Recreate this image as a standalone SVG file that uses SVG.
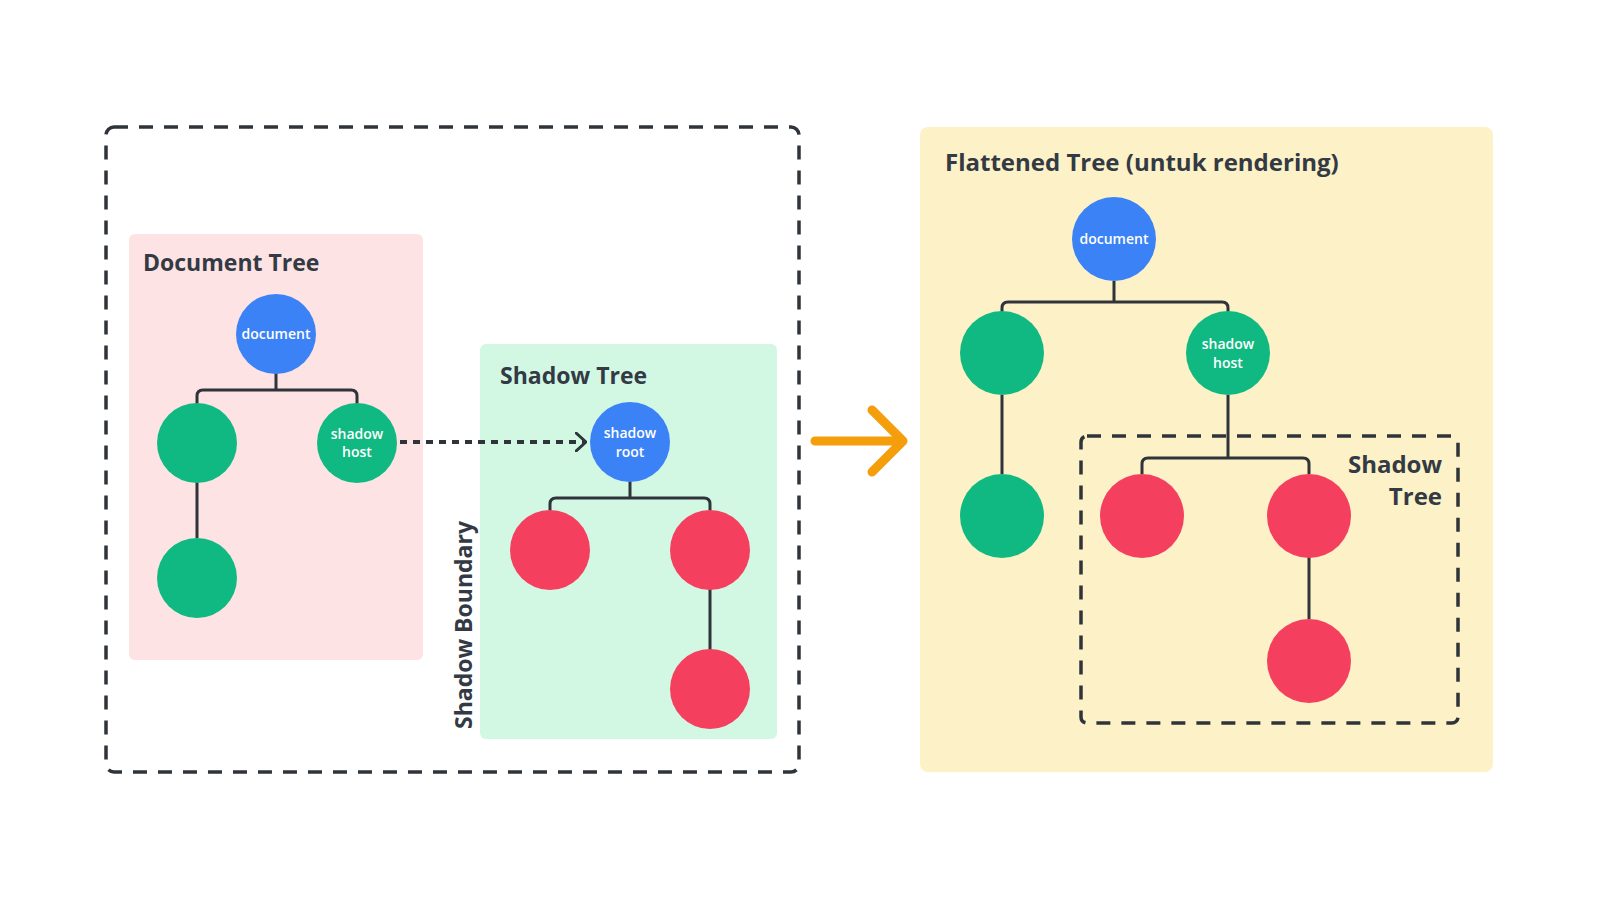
<svg xmlns="http://www.w3.org/2000/svg" width="1600" height="900" viewBox="0 0 1600 900">
<defs>
<style>
.title{font-family:"Open Sans","Liberation Sans",sans-serif;font-weight:700;font-size:23px;fill:#333a44}
.big{font-size:24px}
.lbl{font-family:"Open Sans","Liberation Sans",sans-serif;font-weight:600;font-size:14px;fill:#ffffff;text-anchor:middle}
.blue{fill:#3b82f6}
.green{fill:#10b981}
.red{fill:#f43f5e}
.edge{fill:none;stroke:#2f343b;stroke-width:3;stroke-linejoin:round}
.dash{fill:none;stroke:#2f343b;stroke-width:3.5;stroke-dasharray:14 11}
</style>
<marker id="chev" viewBox="0 0 12 20" refX="11" refY="10" markerWidth="12" markerHeight="20" markerUnits="userSpaceOnUse" orient="auto">
<path d="M1,1 L11,10 L1,19" fill="none" stroke="#2f343b" stroke-width="3" stroke-linecap="round" stroke-linejoin="round"/>
</marker>
</defs>
<rect width="1600" height="900" fill="#ffffff"/>

<g id="frames">
<rect x="106" y="127" width="693" height="645" rx="8" class="dash"/>
<rect x="129" y="234" width="294" height="426" rx="6" fill="#fde3e3"/>
<rect x="480" y="344" width="297" height="395" rx="6" fill="#d2f8e4"/>
<rect x="920" y="127" width="573" height="645" rx="8" fill="#fdf1c7"/>
<text class="title" x="143" y="271">Document Tree</text>
<text class="title" x="500" y="384">Shadow Tree</text>
<text class="title" x="0" y="0" transform="translate(472,625) rotate(-90)" text-anchor="middle">Shadow Boundary</text>
<text class="title big" x="945" y="171">Flattened Tree (untuk rendering)</text>
<rect x="1081" y="436" width="377" height="287" rx="6" class="dash"/>
<text class="title big" x="1442" y="473" text-anchor="end">Shadow</text>
<text class="title big" x="1442" y="505" text-anchor="end">Tree</text>
</g>

<g id="connectors">
<path class="edge" d="M276,373 V390 M197,404 V396 Q197,390 203,390 H351 Q357,390 357,396 V404"/>
<path class="edge" d="M197,482 V538"/>
<path class="edge" d="M630,481 V498 M550,511 V504 Q550,498 556,498 H704 Q710,498 710,504 V511"/>
<path class="edge" d="M710,589 V650"/>
<path d="M400,442 H586" fill="none" stroke="#2f343b" stroke-width="4" stroke-dasharray="7 6" marker-end="url(#chev)"/>
<path d="M815,441 H903 M872,410 L903,441 L872,472" fill="none" stroke="#f59e0b" stroke-width="9" stroke-linecap="round" stroke-linejoin="round"/>
<path class="edge" d="M1114,281 V302 M1002,312 V308 Q1002,302 1008,302 H1222 Q1228,302 1228,308 V312"/>
<path class="edge" d="M1002,395 V474"/>
<path class="edge" d="M1228,395 V458 M1142,474 V464 Q1142,458 1148,458 H1303 Q1309,458 1309,464 V474"/>
<path class="edge" d="M1309,557 V619"/>
</g>

<g id="doc-document"><circle cx="276" cy="334" r="40" class="blue"/><text class="lbl" x="276" y="339">document</text></g>
<g id="doc-child1"><circle cx="197" cy="443" r="40" class="green"/></g>
<g id="doc-shadowhost"><circle cx="357" cy="443" r="40" class="green"/><text class="lbl" x="357" y="439">shadow</text><text class="lbl" x="357" y="457">host</text></g>
<g id="doc-grandchild"><circle cx="197" cy="578" r="40" class="green"/></g>

<g id="sh-root"><circle cx="630" cy="442" r="40" class="blue"/><text class="lbl" x="630" y="438">shadow</text><text class="lbl" x="630" y="457">root</text></g>
<g id="sh-child1"><circle cx="550" cy="550" r="40" class="red"/></g>
<g id="sh-child2"><circle cx="710" cy="550" r="40" class="red"/></g>
<g id="sh-grandchild"><circle cx="710" cy="689" r="40" class="red"/></g>

<g id="fl-document"><circle cx="1114" cy="239" r="42" class="blue"/><text class="lbl" x="1114" y="244">document</text></g>
<g id="fl-child1"><circle cx="1002" cy="353" r="42" class="green"/></g>
<g id="fl-shadowhost"><circle cx="1228" cy="353" r="42" class="green"/><text class="lbl" x="1228" y="349">shadow</text><text class="lbl" x="1228" y="368">host</text></g>
<g id="fl-grandchild"><circle cx="1002" cy="516" r="42" class="green"/></g>
<g id="fl-sh1"><circle cx="1142" cy="516" r="42" class="red"/></g>
<g id="fl-sh2"><circle cx="1309" cy="516" r="42" class="red"/></g>
<g id="fl-sh3"><circle cx="1309" cy="661" r="42" class="red"/></g>
</svg>
